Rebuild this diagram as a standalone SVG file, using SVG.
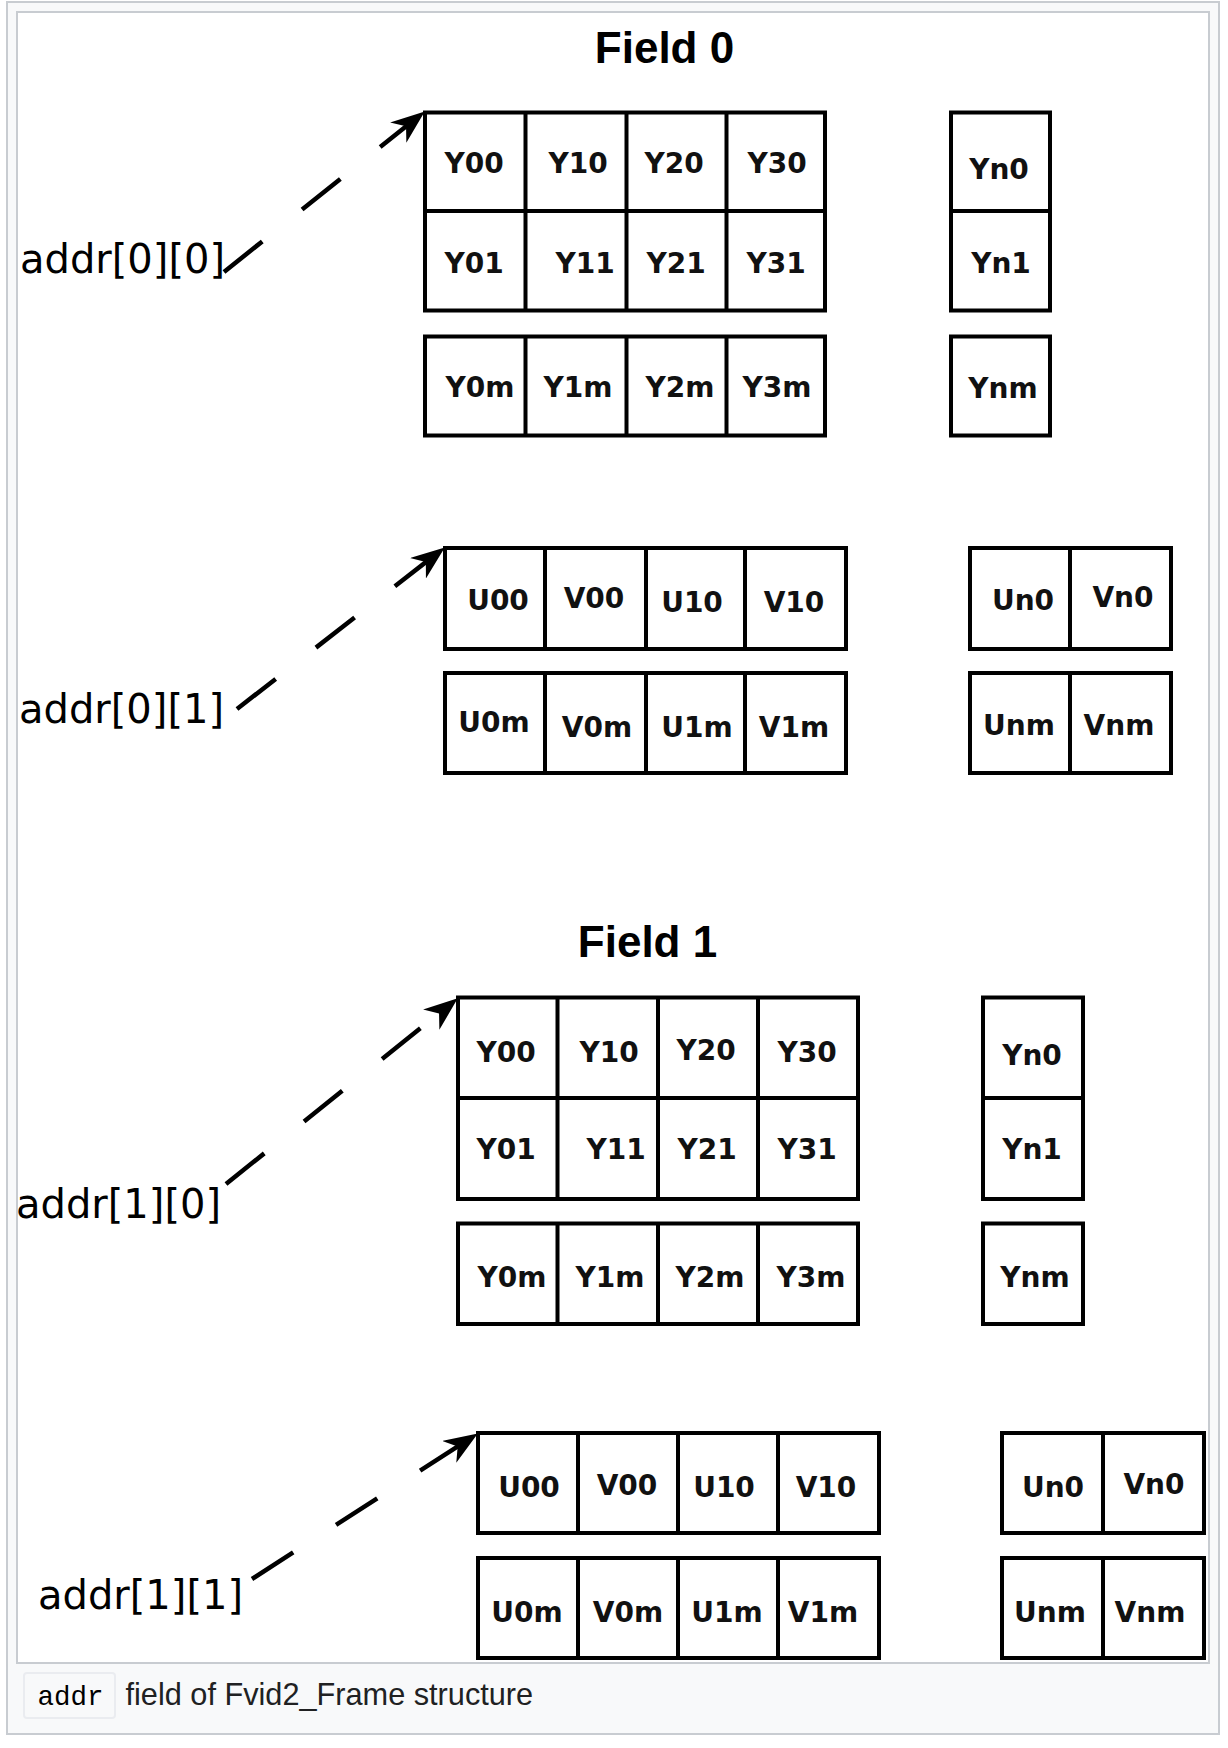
<svg xmlns="http://www.w3.org/2000/svg" width="1228" height="1748" viewBox="0 0 1228 1748">
<style>
.g{fill:none;stroke:#000;stroke-width:4}
.bg{fill:#fff;stroke:#000;stroke-width:4}
.c{font-family:"DejaVu Sans",sans-serif;font-weight:bold;font-size:28px;text-anchor:middle;fill:#111}
.lbl{font-family:"DejaVu Sans",sans-serif;font-size:40px;fill:#000}
.ttl{font-family:"Liberation Sans",Arial,sans-serif;font-weight:bold;font-size:44px;text-anchor:middle;fill:#000}
.arr{fill:none;stroke:#000;stroke-width:4.5;stroke-dasharray:49 51;marker-end:url(#ah)}
</style>
<defs>
<marker id="ah" viewBox="0 0 34 26" refX="33" refY="13" markerWidth="34" markerHeight="26" markerUnits="userSpaceOnUse" orient="auto">
<path d="M0,0 L34,13 L0,26 L10,13 Z" fill="#000"/>
</marker>
</defs>
<rect x="7" y="2" width="1212" height="1732" fill="#f8f9fa" stroke="#c8ccd1" stroke-width="2"/>
<rect x="17" y="12" width="1192" height="1651" fill="#fff" stroke="#c8ccd1" stroke-width="2"/>

<g id="title0"><text class="ttl" x="664.5" y="63">Field 0</text></g>
<g id="title1"><text class="ttl" x="647.5" y="957">Field 1</text></g>

<g id="label00"><text class="lbl" x="20" y="273">addr[0][0]</text></g>
<g id="label01"><text class="lbl" x="19" y="723">addr[0][1]</text></g>
<g id="label10"><text class="lbl" x="16" y="1218">addr[1][0]</text></g>
<g id="label11"><text class="lbl" x="38" y="1609">addr[1][1]</text></g>

<g id="f0-y">
<rect class="bg" x="425" y="112.5" width="400" height="198"/>
<path class="g" d="M525.5 112.5V310.5M626.5 112.5V310.5M726.5 112.5V310.5M425 211H825"/>
<text class="c" x="474" y="173">Y00</text>
<text class="c" x="578" y="173">Y10</text>
<text class="c" x="674" y="173">Y20</text>
<text class="c" x="777" y="173">Y30</text>
<text class="c" x="474" y="273">Y01</text>
<text class="c" x="585" y="273">Y11</text>
<text class="c" x="676" y="273">Y21</text>
<text class="c" x="776" y="273">Y31</text>
</g>
<g id="f0-ym">
<rect class="bg" x="425" y="336.5" width="400" height="99"/>
<path class="g" d="M525.5 336.5V435.5M626.5 336.5V435.5M726.5 336.5V435.5"/>
<text class="c" x="480" y="397">Y0m</text>
<text class="c" x="578" y="397">Y1m</text>
<text class="c" x="680" y="397">Y2m</text>
<text class="c" x="777" y="397">Y3m</text>
</g>
<g id="f0-yn">
<rect class="bg" x="951" y="112.5" width="99" height="198"/>
<path class="g" d="M951 211H1050"/>
<text class="c" x="999" y="179">Yn0</text>
<text class="c" x="1001" y="273">Yn1</text>
</g>
<g id="f0-ynm">
<rect class="bg" x="951" y="336.5" width="99" height="99"/>
<text class="c" x="1003" y="398">Ynm</text>
</g>

<g id="f0-uv0">
<rect class="bg" x="445" y="548" width="401" height="101"/>
<path class="g" d="M545 548V649M646 548V649M745 548V649"/>
<text class="c" x="498" y="610">U00</text>
<text class="c" x="594" y="608">V00</text>
<text class="c" x="692" y="612">U10</text>
<text class="c" x="794" y="612">V10</text>
</g>
<g id="f0-uvm">
<rect class="bg" x="445" y="673" width="401" height="100"/>
<path class="g" d="M545 673V773M646 673V773M745 673V773"/>
<text class="c" x="494" y="732">U0m</text>
<text class="c" x="597" y="737">V0m</text>
<text class="c" x="697" y="737">U1m</text>
<text class="c" x="794" y="737">V1m</text>
</g>
<g id="f0-uvn0">
<rect class="bg" x="970" y="548" width="201" height="101"/>
<path class="g" d="M1070 548V649"/>
<text class="c" x="1023" y="610">Un0</text>
<text class="c" x="1123" y="607">Vn0</text>
</g>
<g id="f0-uvnm">
<rect class="bg" x="970" y="673" width="201" height="100"/>
<path class="g" d="M1070 673V773"/>
<text class="c" x="1019" y="735">Unm</text>
<text class="c" x="1119" y="735">Vnm</text>
</g>

<g id="f1-y">
<rect class="bg" x="458" y="997.5" width="400" height="201.5"/>
<path class="g" d="M557.5 997.5V1199M658 997.5V1199M758 997.5V1199M458 1098H858"/>
<text class="c" x="506" y="1062">Y00</text>
<text class="c" x="609" y="1062">Y10</text>
<text class="c" x="706" y="1060">Y20</text>
<text class="c" x="807" y="1062">Y30</text>
<text class="c" x="506" y="1159">Y01</text>
<text class="c" x="616" y="1159">Y11</text>
<text class="c" x="707" y="1159">Y21</text>
<text class="c" x="807" y="1159">Y31</text>
</g>
<g id="f1-ym">
<rect class="bg" x="458" y="1223.5" width="400" height="100.5"/>
<path class="g" d="M557.5 1223.5V1324M658 1223.5V1324M758 1223.5V1324"/>
<text class="c" x="512" y="1287">Y0m</text>
<text class="c" x="610" y="1287">Y1m</text>
<text class="c" x="710" y="1287">Y2m</text>
<text class="c" x="811" y="1287">Y3m</text>
</g>
<g id="f1-yn">
<rect class="bg" x="983" y="997.5" width="100" height="201.5"/>
<path class="g" d="M983 1098H1083"/>
<text class="c" x="1032" y="1065">Yn0</text>
<text class="c" x="1032" y="1159">Yn1</text>
</g>
<g id="f1-ynm">
<rect class="bg" x="983" y="1223.5" width="100" height="100.5"/>
<text class="c" x="1035" y="1287">Ynm</text>
</g>

<g id="f1-uv0">
<rect class="bg" x="478" y="1433" width="401" height="100"/>
<path class="g" d="M578 1433V1533M678 1433V1533M778 1433V1533"/>
<text class="c" x="529" y="1497">U00</text>
<text class="c" x="627" y="1495">V00</text>
<text class="c" x="724" y="1497">U10</text>
<text class="c" x="826" y="1497">V10</text>
</g>
<g id="f1-uvm">
<rect class="bg" x="478" y="1558" width="401" height="100"/>
<path class="g" d="M578 1558V1658M678 1558V1658M778 1558V1658"/>
<text class="c" x="527" y="1622">U0m</text>
<text class="c" x="628" y="1622">V0m</text>
<text class="c" x="727" y="1622">U1m</text>
<text class="c" x="823" y="1622">V1m</text>
</g>
<g id="f1-uvn0">
<rect class="bg" x="1002" y="1433" width="202" height="100"/>
<path class="g" d="M1103 1433V1533"/>
<text class="c" x="1053" y="1497">Un0</text>
<text class="c" x="1154" y="1494">Vn0</text>
</g>
<g id="f1-uvnm">
<rect class="bg" x="1002" y="1558" width="202" height="100"/>
<path class="g" d="M1103 1558V1658"/>
<text class="c" x="1050" y="1622">Unm</text>
<text class="c" x="1150" y="1622">Vnm</text>
</g>

<g id="connectors">
<path class="arr" d="M224 272L424 112"/>
<path class="arr" d="M237 709L444 548"/>
<path class="arr" d="M226 1184L457 999"/>
<path class="arr" d="M252 1579L477 1434"/>
</g>

<g id="caption">
<rect x="24" y="1673" width="91" height="45" rx="3" fill="#f8f9fa" stroke="#eaecf0" stroke-width="2"/>
<text x="37.5" y="1705" font-family="'Liberation Mono',monospace" font-size="27.5" fill="#000">addr</text>
<text x="125.5" y="1705" font-family="'Liberation Sans',Arial,sans-serif" font-size="30.7" fill="#202122">field of Fvid2_Frame structure</text>
</g>
</svg>
